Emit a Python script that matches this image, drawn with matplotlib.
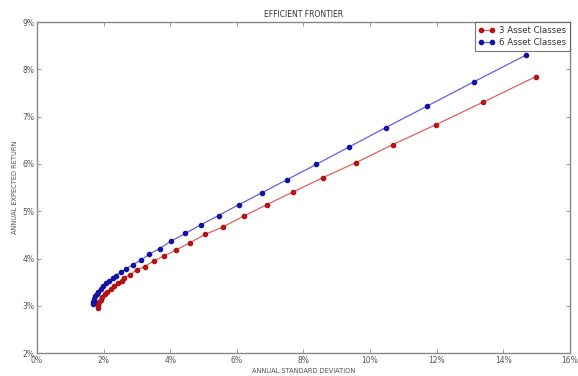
import matplotlib
matplotlib.use('Agg')
import matplotlib.pyplot as plt
from matplotlib.ticker import FuncFormatter

# --- dane (w %) ---
std_3 = [1.83, 1.834, 1.846, 1.872, 1.91, 1.959, 2.031, 2.116, 2.213, 2.32, 2.436, 2.539,
         2.62, 2.80, 2.99, 3.23, 3.50, 3.81, 4.17, 4.58, 5.05, 5.59, 6.21, 6.90,
         7.69, 8.58, 9.58, 10.68, 11.97, 13.40, 14.98]
ret_3 = [2.95, 2.99, 3.03, 3.08, 3.13, 3.18, 3.24, 3.30, 3.36, 3.42, 3.48, 3.53,
         3.59, 3.66, 3.76, 3.83, 3.95, 4.05, 4.18, 4.33, 4.51, 4.67, 4.90, 5.14,
         5.41, 5.71, 6.03, 6.41, 6.83, 7.31, 7.85]

std_6 = [1.69, 1.692, 1.701, 1.717, 1.747, 1.787, 1.837, 1.908, 1.991, 2.084, 2.167, 2.275,
         2.36, 2.51, 2.68, 2.87, 3.13, 3.37, 3.68, 4.03, 4.45, 4.91, 5.45, 6.06,
         6.75, 7.51, 8.38, 9.37, 10.47, 11.70, 13.12, 14.67]
ret_6 = [3.04, 3.07, 3.11, 3.15, 3.20, 3.25, 3.30, 3.36, 3.42, 3.48, 3.53, 3.59,
         3.64, 3.71, 3.78, 3.87, 3.97, 4.09, 4.21, 4.37, 4.53, 4.71, 4.91, 5.14,
         5.39, 5.67, 5.99, 6.36, 6.77, 7.22, 7.74, 8.30]

labels = ['3 Asset Classes', '6 Asset Classes']

plt.rcParams['font.family'] = ['DejaVu Sans']
txt = '#555555'

fig = plt.figure(figsize=(5.78, 3.76), dpi=100)
ax = fig.add_axes([0.064, 0.061, 0.922, 0.880])

ax.plot(std_3, ret_3, color='#e06060', lw=0.9, marker='o', ms=3.0,
        mfc='#cc1111', mec='#aa1111', label=labels[0])
ax.plot(std_6, ret_6, color='#6060e0', lw=0.9, marker='o', ms=3.0,
        mfc='#1111bb', mec='#111199', label=labels[1])

ax.set_xlim(0, 16)
ax.set_ylim(2, 9)
ax.set_xticks(range(0, 17, 2))
ax.set_yticks(range(2, 10))
pct = FuncFormatter(lambda v, p: f'{v:.0f}%')
ax.xaxis.set_major_formatter(pct)
ax.yaxis.set_major_formatter(pct)
ax.tick_params(direction='in', length=3, width=0.6, labelsize=5.5, colors='#888888',
               labelcolor=txt, top=True, right=True, pad=2)
for s in ax.spines.values():
    s.set_color('#888888')
    s.set_linewidth(1.0)

ax.set_title('EFFICIENT FRONTIER', fontsize=5.5, color='#333333', pad=4)
ax.set_xlabel('ANNUAL STANDARD DEVIATION', fontsize=4.8, color=txt, labelpad=2)
ax.set_ylabel('ANNUAL EXPECTED RETURN', fontsize=4.8, color=txt, labelpad=3)

leg = ax.legend(loc='upper right', fontsize=6.2, fancybox=False, borderaxespad=0,
                numpoints=2, handlelength=1.8, handletextpad=0.6, borderpad=0.4,
                labelspacing=0.4)
leg.get_frame().set_edgecolor('#555555')
leg.get_frame().set_linewidth(0.8)
for t in leg.get_texts():
    t.set_color('#333333')

fig.savefig('out.png', dpi=100)
